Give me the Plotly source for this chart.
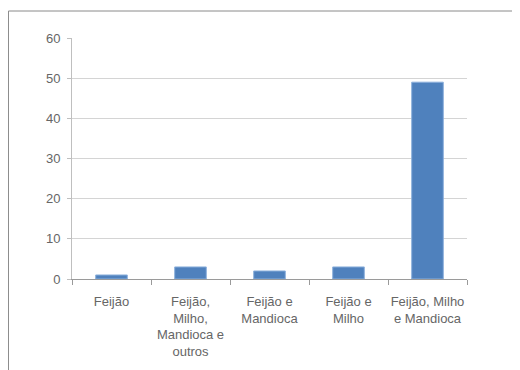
import plotly.graph_objects as go

categories = ["Feijão", "Feijão, Milho, Mandioca e outros", "Feijão e Mandioca", "Feijão e Milho", "Feijão, Milho e Mandioca"]
tick_labels = ["Feijão", "Feijão,<br>Milho,<br>Mandioca e<br>outros", "Feijão e<br>Mandioca", "Feijão e<br>Milho", "Feijão, Milho<br>e Mandioca"]
values = [1, 3, 2, 3, 49]

FONT = "Liberation Sans Narrow, Arial Narrow, Liberation Sans, sans-serif"

fig = go.Figure(go.Bar(
    x=categories, y=values,
    marker=dict(color="#4f81bd", line=dict(color="#8cb0dc", width=1)),
))

fig.update_layout(
    width=512, height=362,
    margin=dict(l=64, r=53, t=30, b=91),
    paper_bgcolor="white", plot_bgcolor="white",
    bargap=0.6,
    showlegend=False,
    font=dict(family=FONT, size=13, color="#666666"),
    shapes=[dict(type="rect", xref="paper", yref="paper",
                 x0=-0.1608, x1=1.2, y0=-0.45, y1=1.112,
                 line=dict(color="#8a8a8a", width=1), layer="below")],
)
fig.update_xaxes(
    tickmode="array", tickvals=categories, ticktext=tick_labels,
    showline=True, linecolor="#9a9a9a", linewidth=1,
    ticks="outside", tickson="boundaries", ticklen=5, tickcolor="#9a9a9a",
    showgrid=False, tickangle=0, ticklabelstandoff=10,
)
fig.update_yaxes(
    range=[0, 60], dtick=10,
    showline=True, linecolor="#bfbfbf", linewidth=1,
    ticks="outside", ticklen=4, tickcolor="#bfbfbf",
    showgrid=True, gridcolor="#d4d4d4", gridwidth=1,
    zeroline=False, ticklabelstandoff=4,
)

fig.write_html("out.html")
